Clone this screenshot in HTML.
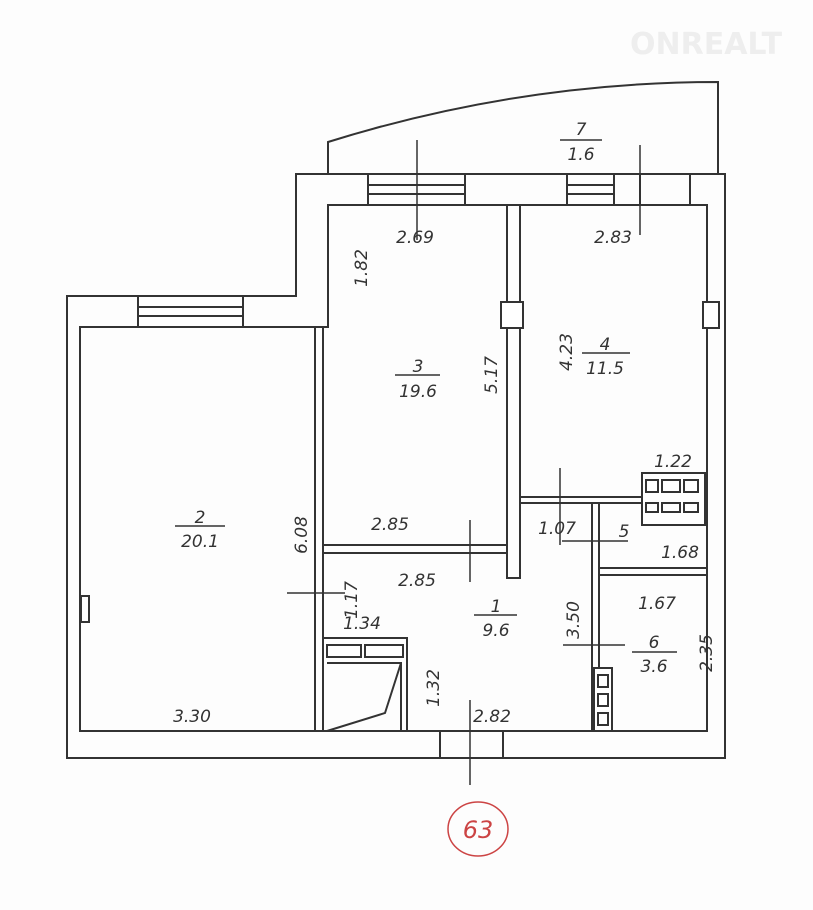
<!DOCTYPE html>
<html><head><meta charset="utf-8"><style>
html,body{margin:0;padding:0;background:#fff;}
svg{display:block;}
text{font-family:"DejaVu Sans","Liberation Sans",sans-serif;font-style:italic;font-size:17px;fill:#333;}
</style></head><body>
<svg width="813" height="910" viewBox="0 0 813 910" xmlns="http://www.w3.org/2000/svg">
<rect width="813" height="910" fill="#fdfdfd"/>
<g fill="none" stroke="#333" stroke-width="2">
<!-- balcony -->
<path d="M328 174 L328 142 Q520 82 718 82 L718 174"/>
<!-- outer contour -->
<path d="M296 174 L725 174 L725 758 L67 758 L67 296 L296 296 Z"/>
<!-- inner contour -->
<path d="M328 205 L707 205 L707 731 L80 731 L80 327 L328 327 Z"/>
<!-- windows top -->
<rect x="368" y="174" width="97" height="31"/>
<line x1="368" y1="185" x2="465" y2="185"/><line x1="368" y1="194" x2="465" y2="194"/>
<rect x="567" y="174" width="47" height="31"/>
<line x1="567" y1="185" x2="614" y2="185"/><line x1="567" y1="194" x2="614" y2="194"/>
<line x1="640" y1="174" x2="640" y2="205"/><line x1="690" y1="174" x2="690" y2="205"/>
<!-- window left wing -->
<rect x="138" y="296" width="105" height="31"/>
<line x1="138" y1="307" x2="243" y2="307"/><line x1="138" y1="316" x2="243" y2="316"/>
<!-- door ticks bottom -->
<line x1="440" y1="731" x2="440" y2="758"/><line x1="503" y1="731" x2="503" y2="758"/>
<!-- wall 3/4 -->
<rect x="507" y="205" width="13" height="373"/>
<rect x="501" y="302" width="22" height="26" fill="#fff"/>
<rect x="703" y="302" width="16" height="26" fill="#fff"/>
<!-- wall 2 / 3,1 -->
<rect x="315" y="327" width="8" height="404"/>
<!-- room 3 bottom wall -->
<rect x="323" y="545" width="184" height="8"/>
<!-- room 4 bottom wall -->
<rect x="520" y="497" width="187" height="6"/>
<!-- room 5/6 left wall -->
<rect x="592" y="503" width="7" height="228"/>
<rect x="599" y="503" width="108" height="65"/>
<rect x="599" y="575" width="108" height="156"/>
<!-- stove -->
<rect x="642" y="473" width="63" height="52" fill="#fff"/>
<rect x="646" y="480" width="12" height="12"/><rect x="662" y="480" width="18" height="12"/><rect x="684" y="480" width="14" height="12"/>
<rect x="646" y="503" width="12" height="9"/><rect x="662" y="503" width="18" height="9"/><rect x="684" y="503" width="14" height="9"/>
<!-- vent block -->
<rect x="594" y="668" width="18" height="63" fill="#fff"/>
<rect x="598" y="675" width="10" height="12"/><rect x="598" y="694" width="10" height="12"/><rect x="598" y="713" width="10" height="12"/>
<!-- closet -->
<rect x="323" y="638" width="84" height="93"/>
<rect x="327" y="645" width="34" height="12"/><rect x="365" y="645" width="38" height="12"/>
<path d="M327 663 L401 663 L401 731 M401 663 L385 713 L327 731"/>
<rect x="81" y="596" width="8" height="26"/>
</g>
<!-- leader lines -->
<g stroke="#333" stroke-width="1.5">
<line x1="417" y1="140" x2="417" y2="240"/>
<line x1="640" y1="145" x2="640" y2="235"/>
<line x1="560" y1="140" x2="602" y2="140"/>
<line x1="470" y1="520" x2="470" y2="582"/>
<line x1="560" y1="468" x2="560" y2="545"/>
<line x1="470" y1="700" x2="470" y2="785"/>
<line x1="287" y1="593" x2="345" y2="593"/>
<line x1="562" y1="541" x2="628" y2="541"/>
<line x1="563" y1="645" x2="625" y2="645"/>
<line x1="395" y1="375" x2="440" y2="375"/>
<line x1="582" y1="353" x2="630" y2="353"/>
<line x1="175" y1="526" x2="225" y2="526"/>
<line x1="474" y1="615" x2="517" y2="615"/>
<line x1="632" y1="652" x2="677" y2="652"/>
</g>
<g text-anchor="middle">
<text x="581" y="135">7</text><text x="581" y="160">1.6</text>
<text x="415" y="243">2.69</text><text x="613" y="243">2.83</text>
<text transform="translate(367,268) rotate(-90)">1.82</text>
<text x="418" y="372">3</text><text x="418" y="397">19.6</text>
<text transform="translate(497,375) rotate(-90)">5.17</text>
<text transform="translate(572,352) rotate(-90)">4.23</text>
<text x="605" y="350">4</text><text x="605" y="374">11.5</text>
<text x="673" y="467">1.22</text>
<text x="200" y="523">2</text><text x="200" y="547">20.1</text>
<text transform="translate(307,535) rotate(-90)">6.08</text>
<text x="390" y="530">2.85</text><text x="417" y="586">2.85</text>
<text x="557" y="534">1.07</text>
<text x="624" y="537">5</text><text x="680" y="558">1.68</text>
<text transform="translate(357,600) rotate(-90)">1.17</text>
<text x="362" y="629">1.34</text>
<text x="496" y="612">1</text><text x="496" y="636">9.6</text>
<text transform="translate(579,620) rotate(-90)">3.50</text>
<text x="657" y="609">1.67</text>
<text x="654" y="648">6</text><text x="654" y="672">3.6</text>
<text transform="translate(712,653) rotate(-90)">2.35</text>
<text transform="translate(439,688) rotate(-90)">1.32</text>
<text x="192" y="722">3.30</text><text x="492" y="722">2.82</text>
</g>
<ellipse cx="478" cy="829" rx="30" ry="27" fill="none" stroke="#c44" stroke-width="1.5"/>
<text x="478" y="838" text-anchor="middle" style="fill:#c44;font-size:24px">63</text>
<text x="630" y="54" style="fill:#eee;font-style:normal;font-weight:bold;font-size:30px">ONREALT</text>
</svg>
</body></html>
